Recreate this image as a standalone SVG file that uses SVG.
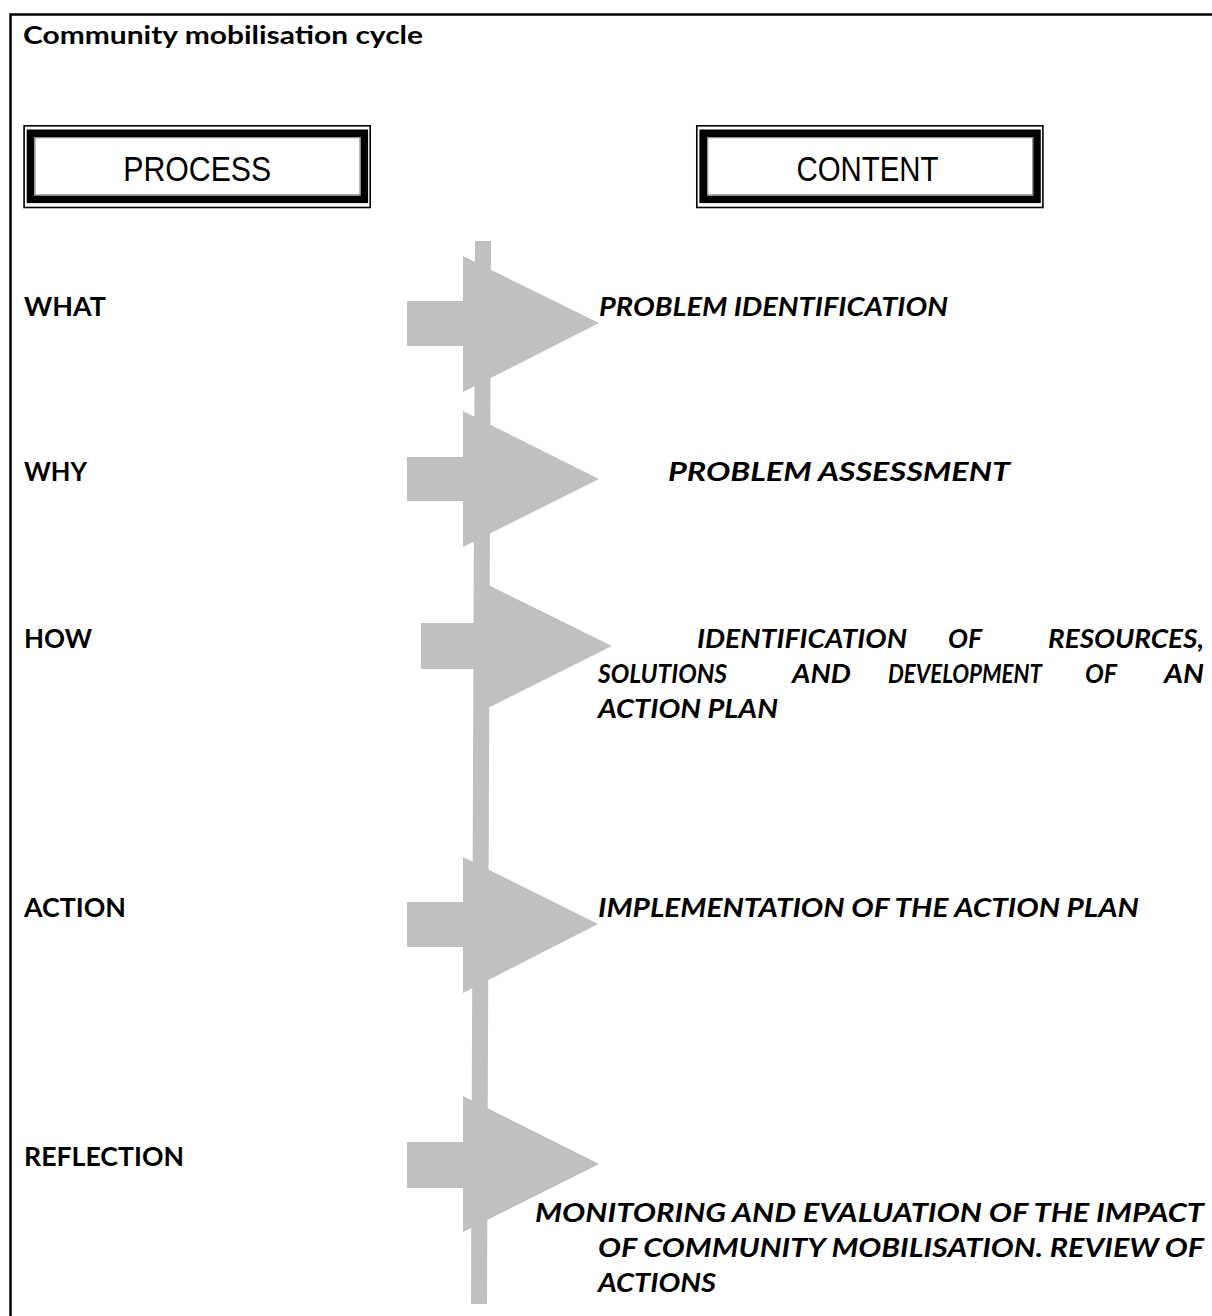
<svg xmlns="http://www.w3.org/2000/svg" width="1212" height="1316" viewBox="0 0 1212 1316">
  <style>
    .frame { fill: none; stroke: #000; stroke-width: 2.5; }
    .box-outer { fill: #fff; stroke: #000; stroke-width: 1.6; }
    .box-thick { fill: none; stroke: #000; stroke-width: 7.6; }
    .box-inner { fill: none; stroke: #8a8a8a; stroke-width: 1.2; }
    .head { font-family: "Liberation Sans", Arial, sans-serif; font-size: 35px; fill: #000; text-anchor: middle; }
    .title { font-family: Lato, "Open Sans", sans-serif; font-weight: 700; font-size: 25px; fill: #000; }
    .label { font-family: Lato, "Open Sans", sans-serif; font-weight: 700; font-size: 26.5px; fill: #000; }
    .content { font-family: Lato, "Open Sans", sans-serif; font-weight: 700; font-style: italic; font-size: 26.5px; fill: #000; }
    .arrow { fill: #c0c0c0; }
  </style>

  <!-- page frame: top rule and left rule -->
  <path class="frame" d="M10.5 1316 V14.5 H1212"/>

  <text class="title" x="23" y="44" textLength="400" lengthAdjust="spacingAndGlyphs">Community mobilisation cycle</text>

  <!-- column headers -->
  <g id="process-header">
    <rect class="box-outer" x="24.1" y="125.8" width="346.1" height="81.7"/>
    <rect class="box-thick" x="30.5" y="133.3" width="333.8" height="66"/>
    <rect class="box-inner" x="35" y="137.7" width="325" height="57.2"/>
    <text class="head" x="197.2" y="180.5" textLength="148" lengthAdjust="spacingAndGlyphs">PROCESS</text>
  </g>
  <g id="content-header">
    <rect class="box-outer" x="696.8" y="125.8" width="346.1" height="81.7"/>
    <rect class="box-thick" x="703.2" y="133.3" width="333.8" height="66"/>
    <rect class="box-inner" x="707.7" y="137.7" width="325" height="57.2"/>
    <text class="head" x="867.5" y="180.5" textLength="142" lengthAdjust="spacingAndGlyphs">CONTENT</text>
  </g>

  <!-- vertical spine running through all steps -->
  <g id="connectors">
    <polygon class="arrow" points="475,241 491,241 487,1304 471,1304"/>
  </g>

  <!-- steps -->
  <g id="step-what">
    <polygon class="arrow" points="407,301 463,301 463,256 599,323 463,392 463,346 407,346"/>
    <text class="label" x="24" y="316" textLength="82" lengthAdjust="spacingAndGlyphs">WHAT</text>
    <text class="content" x="599" y="316" textLength="349" lengthAdjust="spacingAndGlyphs">PROBLEM IDENTIFICATION</text>
  </g>

  <g id="step-why">
    <polygon class="arrow" points="407,457 463,457 463,411 599,479 463,547 463,501 407,501"/>
    <text class="label" x="24" y="481" textLength="63" lengthAdjust="spacingAndGlyphs">WHY</text>
    <text class="content" x="668" y="481" textLength="342" lengthAdjust="spacingAndGlyphs">PROBLEM ASSESSMENT</text>
  </g>

  <g id="step-how">
    <polygon class="arrow" points="421,623 474,623 474,578 612,646 474,715 474,669 421,669"/>
    <text class="label" x="24" y="648" textLength="68" lengthAdjust="spacingAndGlyphs">HOW</text>
    <text class="content" x="697" y="648" textLength="210" lengthAdjust="spacingAndGlyphs">IDENTIFICATION</text>
    <text class="content" x="948" y="648" textLength="34" lengthAdjust="spacingAndGlyphs">OF</text>
    <text class="content" x="1048" y="648" textLength="156" lengthAdjust="spacingAndGlyphs">RESOURCES,</text>
    <text class="content" x="598" y="683" textLength="129" lengthAdjust="spacingAndGlyphs">SOLUTIONS</text>
    <text class="content" x="792" y="683" textLength="59" lengthAdjust="spacingAndGlyphs">AND</text>
    <text class="content" x="888" y="683" textLength="154" lengthAdjust="spacingAndGlyphs">DEVELOPMENT</text>
    <text class="content" x="1085" y="683" textLength="32" lengthAdjust="spacingAndGlyphs">OF</text>
    <text class="content" x="1164" y="683" textLength="40" lengthAdjust="spacingAndGlyphs">AN</text>
    <text class="content" x="598" y="718" textLength="180" lengthAdjust="spacingAndGlyphs">ACTION PLAN</text>
  </g>

  <g id="step-action">
    <polygon class="arrow" points="407,902 463,902 463,857 598,924 463,993 463,947 407,947"/>
    <text class="label" x="24" y="917" textLength="102" lengthAdjust="spacingAndGlyphs">ACTION</text>
    <text class="content" x="598" y="917" textLength="541" lengthAdjust="spacingAndGlyphs">IMPLEMENTATION OF THE ACTION PLAN</text>
  </g>

  <g id="step-reflection">
    <polygon class="arrow" points="407,1142 463,1142 463,1096 599,1164 463,1232 463,1188 407,1188"/>
    <text class="label" x="24" y="1166" textLength="160" lengthAdjust="spacingAndGlyphs">REFLECTION</text>
    <text class="content" x="535" y="1222" textLength="669" lengthAdjust="spacingAndGlyphs">MONITORING AND EVALUATION OF THE IMPACT</text>
    <text class="content" x="598" y="1257" textLength="606" lengthAdjust="spacingAndGlyphs">OF COMMUNITY MOBILISATION. REVIEW OF</text>
    <text class="content" x="598" y="1292" textLength="118" lengthAdjust="spacingAndGlyphs">ACTIONS</text>
  </g>
</svg>
